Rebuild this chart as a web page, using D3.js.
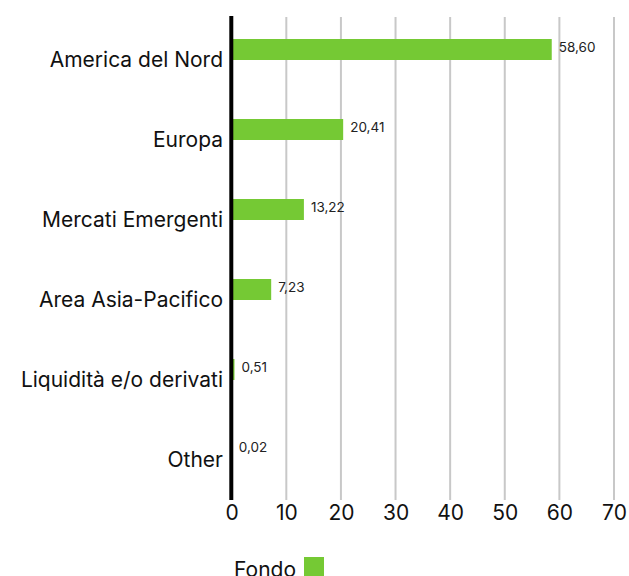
<!DOCTYPE html>
<html>
<head>
<meta charset="utf-8">
<script src="https://cdn.jsdelivr.net/npm/d3@7"></script>
<style>
  html, body { margin: 0; padding: 0; background: #fff; }
  svg { display: block; }
  text { font-family: Inter, "Open Sans", sans-serif; }
</style>
</head>
<body>
<svg id="chart" width="629" height="576"></svg>
<script>
const categories = ["America del Nord", "Europa", "Mercati Emergenti", "Area Asia-Pacifico", "Liquidità e/o derivati", "Other"];
const fondo = [58.60, 20.41, 13.22, 7.23, 0.51, 0.02];
const valueLabels = ["58,60", "20,41", "13,22", "7,23", "0,51", "0,02"];
const xTicks = [0, 10, 20, 30, 40, 50, 60, 70];
const seriesName = "Fondo";

const svg = d3.select("#chart");
const x = d3.scaleLinear().domain([0, 70]).range([231.7, 614]);
const y = d3.scaleBand().domain(categories).range([20, 500]).paddingInner(0).paddingOuter(0);
const green = "#75c934";
const barH = 21;

// gridlines
svg.append("g").selectAll("line").data(xTicks.filter(d => d > 0)).join("line")
  .attr("x1", d => x(d)).attr("x2", d => x(d))
  .attr("y1", 17).attr("y2", 500)
  .attr("stroke", "#c8c8c8").attr("stroke-width", 2);

// bars
svg.append("g").selectAll("rect").data(fondo).join("rect")
  .attr("x", x(0))
  .attr("y", (d, i) => y(categories[i]) + y.bandwidth() / 2 - barH)
  .attr("width", d => x(d) - x(0))
  .attr("height", barH)
  .attr("fill", green);

// value labels
svg.append("g").selectAll("text").data(fondo).join("text")
  .attr("x", d => x(d) + 7)
  .attr("y", (d, i) => y(categories[i]) + y.bandwidth() / 2 - 8)
  .attr("font-size", 13.5)
  .attr("fill", "#222")
  .text((d, i) => valueLabels[i]);

// y axis line
svg.append("line")
  .attr("x1", 231.3).attr("x2", 231.3)
  .attr("y1", 16).attr("y2", 500)
  .attr("stroke", "#000").attr("stroke-width", 4);

// category labels
svg.append("g").selectAll("text").data(categories).join("text")
  .attr("x", 223)
  .attr("y", d => y(d) + y.bandwidth() / 2)
  .attr("dy", "0.35em")
  .attr("text-anchor", "end")
  .attr("font-size", 21)
  .attr("fill", "#111")
  .text(d => d);

// x axis tick labels
const xAxis = d3.axisBottom(x).tickValues(xTicks).tickSize(0).tickPadding(0).tickFormat(d3.format("d"));
const gx = svg.append("g").attr("transform", "translate(0,500)").call(xAxis);
gx.select(".domain").remove();
gx.selectAll("text")
  .attr("y", 13).attr("dy", "0.35em")
  .attr("font-size", 21).attr("fill", "#111")
  .style("font-family", "Inter, 'Open Sans', sans-serif");

// legend
const lg = svg.append("g");
lg.append("text").attr("x", 296).attr("y", 577).attr("text-anchor", "end")
  .attr("font-size", 21).attr("fill", "#111").text(seriesName);
lg.append("rect").attr("x", 304).attr("y", 557).attr("width", 20).attr("height", 20).attr("fill", green);
</script>
</body>
</html>
